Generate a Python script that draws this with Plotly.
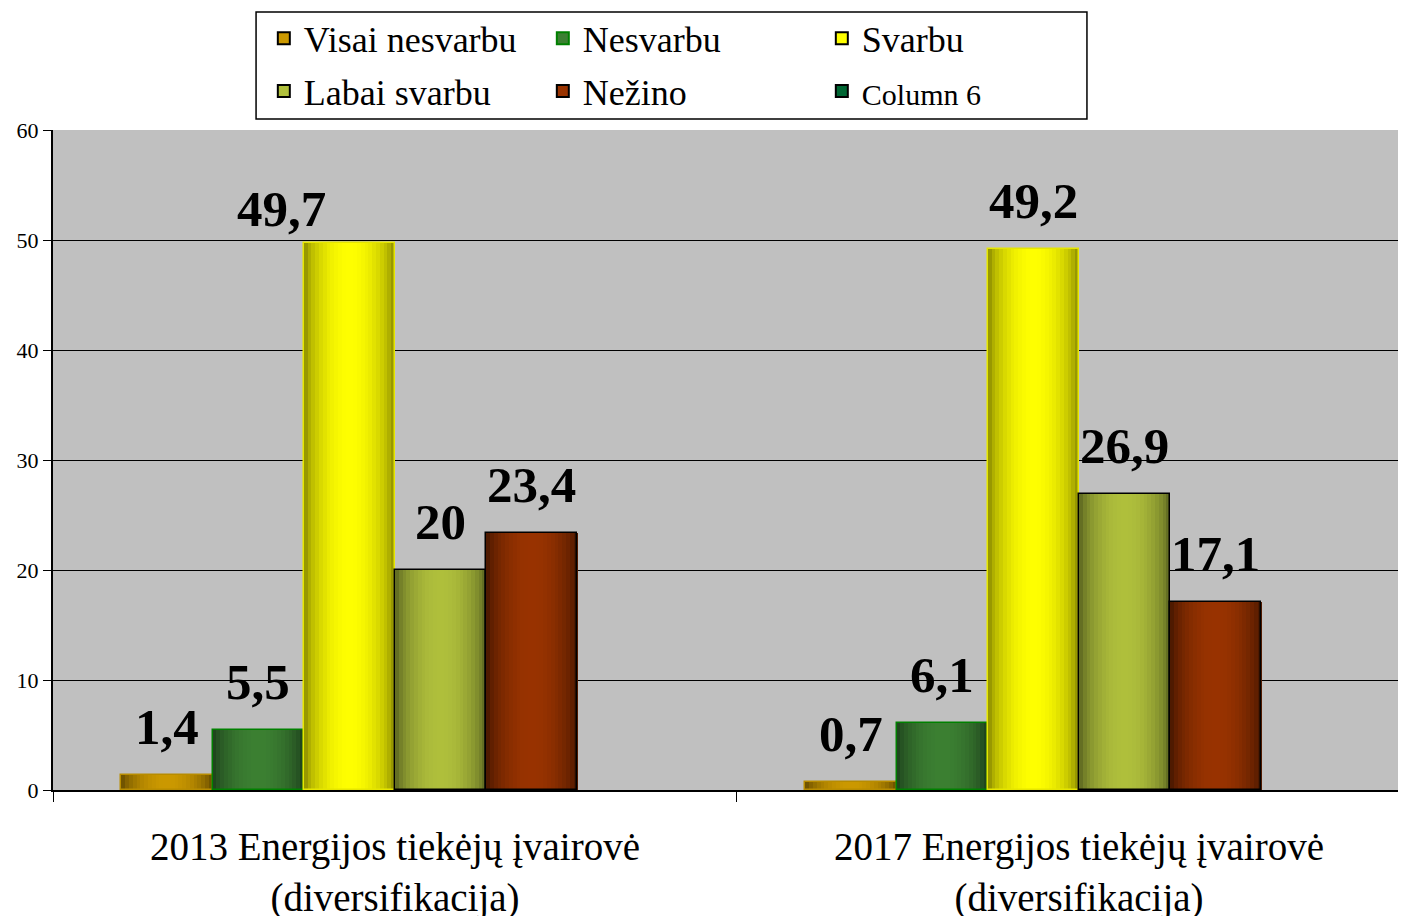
import math
import plotly.graph_objects as go

# ---- data ----
categories = ["2013 Energijos tiekėjų įvairovė<br>(diversifikacija)",
              "2017 Energijos tiekėjų įvairovė<br>(diversifikacija)"]
series_names = ["Visai nesvarbu", "Nesvarbu", "Svarbu", "Labai svarbu", "Nežino", "Column 6"]
visai_nesvarbu = [1.4, 0.7]
nesvarbu = [5.5, 6.1]
svarbu = [49.7, 49.2]
labai_svarbu = [20, 26.9]
nezino = [23.4, 17.1]
column_6 = [None, None]
y_ticks = [0, 10, 20, 30, 40, 50, 60]

series_values = [visai_nesvarbu, nesvarbu, svarbu, labai_svarbu, nezino, column_6]

# ---- styles ----
bright = [(204, 153, 0), (60, 128, 50), (255, 255, 0), (176, 192, 60), (153, 51, 0), (0, 102, 51)]
dark = [(92, 68, 0), (26, 56, 26), (128, 128, 0), (82, 92, 30), (62, 20, 0), (0, 60, 30)]
outline = ["#b88c00", "#008000", "#e6e600", "#000000", "#000000", "#000000"]
legend_of = ["legend", "legend", "legend", "legend2", "legend2", "legend2"]
FONT = "Liberation Serif"

x_idx = list(range(len(categories)))
n_series = len(series_names)
group_w = 0.8
slot_w = group_w / n_series
N_STRIPS = 24

fig = go.Figure()

def rgb(c):
    return "rgb(%d,%d,%d)" % c

for k, (name, vals) in enumerate(zip(series_names, series_values)):
    base = -group_w / 2 + k * slot_w
    has_data = any(v is not None for v in vals)
    if has_data:
        sw = slot_w / N_STRIPS
        for j in range(N_STRIPS):
            t = (j + 0.5) / N_STRIPS
            f = math.sin(math.pi * t) ** 0.6
            c = tuple(int(dark[k][i] + (bright[k][i] - dark[k][i]) * f) for i in range(3))
            fig.add_trace(go.Bar(
                x=x_idx, y=vals, offset=base + j * sw, width=sw * 1.08,
                marker=dict(color=rgb(c), line=dict(width=0)),
                showlegend=False, hoverinfo="skip"))
        # outline
        fig.add_trace(go.Bar(
            x=x_idx, y=vals, offset=base, width=slot_w,
            marker=dict(color="rgba(0,0,0,0)", line=dict(color=outline[k], width=1.5)),
            showlegend=False, hoverinfo="skip"))
    # legend entry
    label = name if name != "Column 6" else '<span style="font-size:30px">Column 6</span>'
    fig.add_trace(go.Bar(
        x=x_idx, y=[None] * len(x_idx), name=label, legend=legend_of[k],
        marker=dict(color=rgb(bright[k]), line=dict(color="#000000" if k != 1 else "#008000", width=1.5)),
        showlegend=True))

# data labels
annotations = []
for k, vals in enumerate(series_values):
    base = -group_w / 2 + k * slot_w
    for i, v in zip(x_idx, vals):
        if v is None:
            continue
        txt = ("%g" % v).replace(".", ",")
        moved = (k == 2 and i == 0)
        annotations.append(dict(
            x=i + base + slot_w / 2, y=v, xref="x", yref="y",
            text=txt, showarrow=False, yanchor="bottom",
            yshift=4 if moved else 18,
            xshift=-68 if moved else 0,
            font=dict(family=FONT, size=51, color="black", weight="bold")))

fig.update_layout(
    width=1406, height=916,
    margin=dict(l=45, r=0, t=122, b=134, autoexpand=False),
    paper_bgcolor="white", plot_bgcolor="#c0c0c0",
    barmode="overlay", bargap=0,
    font=dict(family=FONT, color="black"),
    annotations=annotations,
    xaxis=dict(
        range=[-0.5, 1.4898], tickmode="array", tickvals=x_idx, ticktext=categories,
        showgrid=False, zeroline=False, showline=True, linecolor="black", linewidth=2,
        ticks="outside", ticklen=21, tickcolor="rgba(0,0,0,0)", automargin=False,
        tickfont=dict(family=FONT, size=39, color="black"),
        minor=dict(tickmode="array", tickvals=[-0.5, 0.5], ticks="outside", ticklen=10,
                   tickcolor="black", tickwidth=1, showgrid=False),
    ),
    yaxis=dict(
        range=[0, 60], tickmode="array", tickvals=y_ticks, automargin=False,
        showgrid=True, gridcolor="black", gridwidth=1, zeroline=False,
        showline=True, linecolor="black", linewidth=2,
        ticks="outside", ticklen=8, tickcolor="black",
        tickfont=dict(family=FONT, size=22, color="black"),
    ),
    legend=dict(orientation="h", x=0.1549, xanchor="left", y=1.139, yanchor="middle",
                entrywidth=234, bgcolor="rgba(0,0,0,0)", borderwidth=0,
                font=dict(family=FONT, size=36, color="black"), itemsizing="constant"),
    legend2=dict(orientation="h", x=0.1549, xanchor="left", y=1.059, yanchor="middle",
                 entrywidth=234, bgcolor="rgba(0,0,0,0)", borderwidth=0,
                 font=dict(family=FONT, size=36, color="black"), itemsizing="constant"),
    shapes=[dict(type="rect", xref="paper", yref="paper",
                 x0=0.1492, x1=0.7597, y0=1.0167, y1=1.1788,
                 line=dict(color="black", width=1.5), fillcolor="rgba(0,0,0,0)")],
)

fig.write_html("out.html")
